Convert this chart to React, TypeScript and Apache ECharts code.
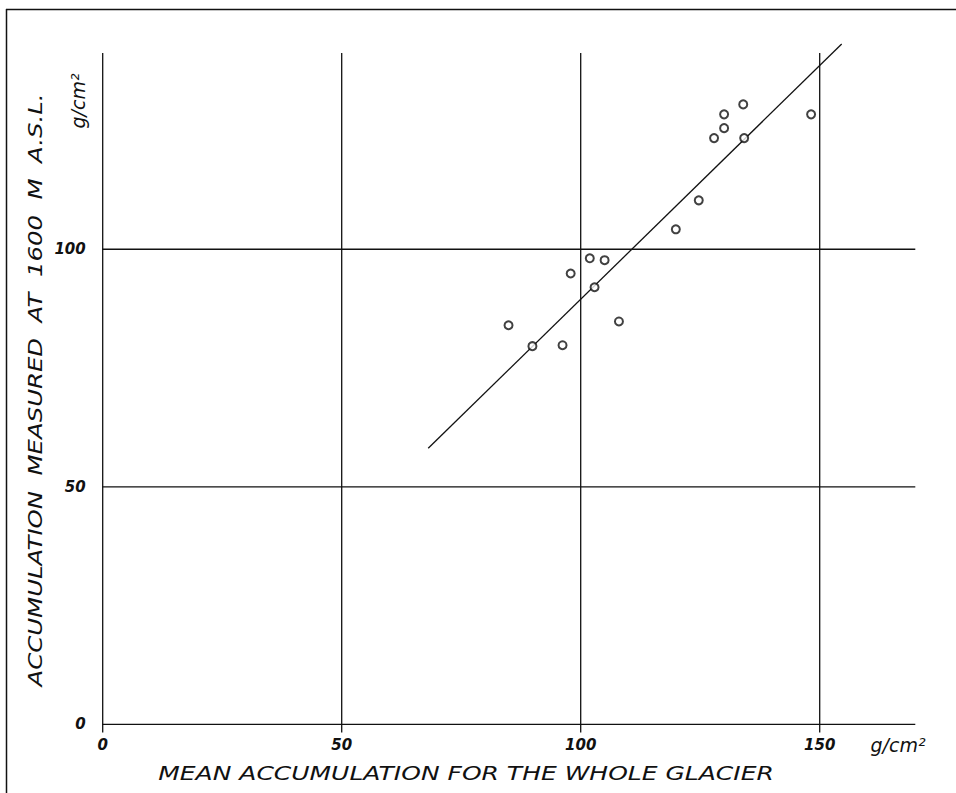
import React, { useEffect, useRef } from "react";
import * as echarts from "echarts";

// Observations (x: mean accumulation whole glacier, y: accumulation at 1600 m), g/cm²
const meanAccumulation = [84.9, 89.9, 96.2, 97.9, 101.9, 105.0, 102.9, 108.0, 119.9, 124.7, 127.9, 130.0, 130.0, 134.0, 134.2, 148.2];
const measuredAt1600 = [84.0, 79.6, 79.8, 94.9, 98.1, 97.7, 92.0, 84.8, 104.2, 110.3, 123.4, 125.5, 128.4, 130.5, 123.4, 128.4];

// Regression line end points
const fitX = [68.1, 154.6];
const fitY = [58.1, 143.2];

// Tick values
const xTicks = [0, 50, 100, 150];
const yTicks = [0, 50, 100];

const xMax = 170;
const yMax = 145;
const vGridTop = 141.3;

const xTitle = "MEAN ACCUMULATION FOR THE WHOLE GLACIER";
const yTitle = "ACCUMULATION  MEASURED  AT  1600  M  A.S.L.";
const unit = "g/cm²";

export default function App() {
  const ref = useRef<HTMLDivElement>(null);
  useEffect(() => {
    if (!ref.current) return;
    const chart = echarts.init(ref.current, undefined, { renderer: "svg" });
    const ink = "#111";
    const gridStyle = { color: ink, width: 1.3 };
    const lineSeries: any[] = [];
    yTicks.forEach((v) => {
      lineSeries.push({
        type: "line",
        data: [[-2.1, v], [xMax, v]],
        symbol: "none",
        clip: false,
        silent: true,
        lineStyle: gridStyle,
        z: 1,
      });
    });
    xTicks.forEach((v) => {
      lineSeries.push({
        type: "line",
        data: [[v, -1.7], [v, vGridTop]],
        symbol: "none",
        clip: false,
        silent: true,
        lineStyle: gridStyle,
        z: 1,
      });
    });
    const tickFont = {
      fontFamily: "DejaVu Sans",
      fontStyle: "italic" as const,
      fontWeight: "bold" as const,
      fontSize: 15,
      color: ink,
    };
    chart.setOption({
      animation: false,
      backgroundColor: "#fff",
      grid: { left: 102.7, right: 40.7, top: 35.5, bottom: 68.7 },
      xAxis: {
        type: "value",
        min: 0,
        max: xMax,
        interval: 50,
        axisLine: { show: false },
        axisTick: { show: false },
        splitLine: { show: false },
        axisLabel: {
          ...tickFont,
          margin: 13,
          formatter: (v: number) => (xTicks.includes(v) ? String(v) : ""),
        },
      },
      yAxis: {
        type: "value",
        min: 0,
        max: yMax,
        interval: 50,
        axisLine: { show: false },
        axisTick: { show: false },
        splitLine: { show: false },
        axisLabel: {
          ...tickFont,
          margin: 17,
          formatter: (v: number) => (yTicks.includes(v) ? String(v) : ""),
        },
      },
      series: [
        ...lineSeries,
        {
          type: "line",
          data: fitX.map((x, i) => [x, fitY[i]]),
          symbol: "none",
          clip: false,
          lineStyle: { color: ink, width: 1.3 },
          z: 2,
        },
        {
          type: "scatter",
          data: meanAccumulation.map((x, i) => [x, measuredAt1600[i]]),
          symbol: "circle",
          symbolSize: 8,
          itemStyle: { color: "#fff", borderColor: ink, borderWidth: 2 },
          z: 3,
        },
      ],
      graphic: [
        {
          type: "line",
          shape: { x1: 6, y1: 9.5, x2: 956, y2: 9.5 },
          style: { stroke: ink, lineWidth: 1.5 },
        },
        {
          type: "line",
          shape: { x1: 6.5, y1: 9, x2: 6.5, y2: 793 },
          style: { stroke: ink, lineWidth: 1.5 },
        },
        {
          type: "text",
          x: 466,
          y: 773,
          scaleX: 1.25,
          style: {
            text: xTitle,
            font: "italic 20px 'DejaVu Sans'",
            fill: ink,
            align: "center",
            verticalAlign: "middle",
          },
        },
        {
          type: "text",
          x: 35,
          y: 390,
          rotation: Math.PI / 2,
          scaleX: 1.22,
          style: {
            text: yTitle,
            font: "italic 20px 'DejaVu Sans'",
            fill: ink,
            align: "center",
            verticalAlign: "middle",
          },
        },
        {
          type: "text",
          x: 898,
          y: 745,
          style: {
            text: unit,
            font: "italic 19px 'DejaVu Sans'",
            fill: ink,
            align: "center",
            verticalAlign: "middle",
          },
        },
        {
          type: "text",
          x: 78,
          y: 101,
          rotation: Math.PI / 2,
          style: {
            text: unit,
            font: "italic 19px 'DejaVu Sans'",
            fill: ink,
            align: "center",
            verticalAlign: "middle",
          },
        },
      ],
    });
    return () => chart.dispose();
  }, []);
  return (
    <div
      ref={ref}
      style={{ position: "fixed", left: 0, top: 0, width: 956, height: 793, background: "#fff" }}
    />
  );
}
